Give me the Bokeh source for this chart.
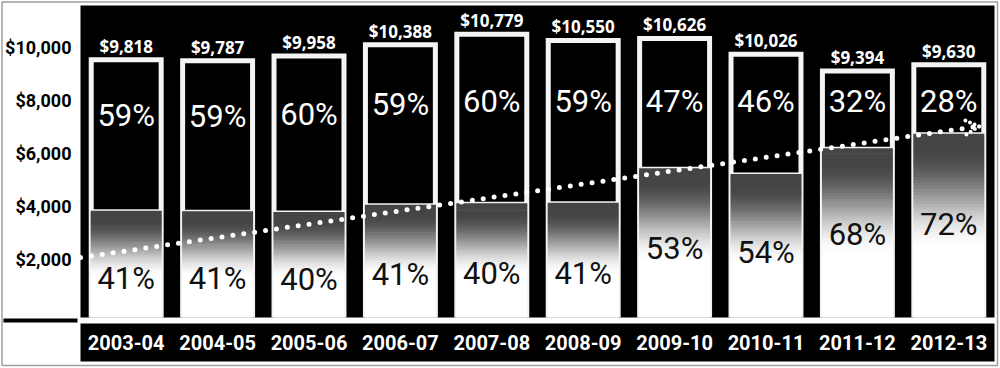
import numpy as np
from bokeh.plotting import figure
from bokeh.models import Range1d, ColumnDataSource
from bokeh.core.properties import value
from bokeh.embed import file_html
from bokeh.resources import INLINE

# ---------------- data ----------------
years = ["2003-04", "2004-05", "2005-06", "2006-07", "2007-08",
         "2008-09", "2009-10", "2010-11", "2011-12", "2012-13"]
totals = [9818, 9787, 9958, 10388, 10779, 10550, 10626, 10026, 9394, 9630]
upper_pct = [59, 59, 60, 59, 60, 59, 47, 46, 32, 28]
lower_pct = [41, 41, 40, 41, 40, 41, 53, 54, 68, 72]
y_ticks = [2000, 4000, 6000, 8000, 10000]
y_tick_labels = ["$2,000", "$4,000", "$6,000", "$8,000", "$10,000"]
trend_start = 2260
trend_end = 7210

# ---------------- layout ----------------
W, H = 1000, 368
PLOT_LEFT = 80
PLOT_RIGHT = 994
n = len(years)
UX = (PLOT_RIGHT - PLOT_LEFT) / n   # px per category
Y0 = 317                            # px from top where $0 sits
KY = 53 / 2000                      # px per dollar


def dx(px):
    return px / UX


def dy(px):
    return px / KY


x_start = -PLOT_LEFT / UX
x_end = (W - PLOT_LEFT) / UX
y_end = Y0 / KY
y_start = -(H - Y0) / KY

NARROW = "Roboto"
WIDE = "Open Sans"

p = figure(width=W, height=H,
           x_range=Range1d(x_start, x_end), y_range=Range1d(y_start, y_end),
           output_backend="svg", toolbar_location=None,
           x_axis_location=None, y_axis_location=None,
           min_border=0, background_fill_color="white",
           border_fill_color="white", outline_line_color=None)
p.grid.visible = False

# thin grey frame around the whole picture
p.quad(left=[x_start + dx(1.5)], right=[x_end - dx(3)],
       bottom=[y_start + dy(3)], top=[y_end - dy(1.5)],
       fill_color=None, line_color="#a0a0a0", line_width=1.5)

# black plot area
p.quad(left=[0], right=[n], bottom=[0], top=[y_end - dy(5)], fill_color="black", line_color=None)
# label band
band_top = -dy(6)
band_bottom = -dy(44)
p.quad(left=[0], right=[n], bottom=[band_bottom], top=[band_top], fill_color="black", line_color=None)
# short rule at the left in the gap
p.quad(left=[x_start + dx(3)], right=[-dx(3)], bottom=[-dy(5)], top=[-dy(1)],
       fill_color="black", line_color=None)

centers = np.arange(n) + 0.5
tot = np.array(totals, dtype=float)
split = tot * np.array(lower_pct) / 100.0
HALF = 0.41

# outer white bar
p.quad(left=centers - HALF, right=centers + HALF, bottom=0, top=tot,
       fill_color="#f4f4f4", line_color=None)
# black upper section
p.quad(left=centers - HALF + dx(5), right=centers + HALF - dx(5),
       bottom=split + dy(1.5), top=tot - dy(5), fill_color="black", line_color=None)

# gradient lower section drawn as thin strips
N = 60
gl, gr, gb, gt, gc = [], [], [], [], []
for c, sp in zip(centers, split):
    edges = np.linspace(0, sp, N + 1)
    for k in range(N):
        mid = 0.5 * (edges[k] + edges[k + 1])
        t = 1 - mid / sp
        s = min(max((t - 0.08) / 0.55, 0.0), 1.0)
        s = s * s * (3 - 2 * s)
        g = int(round(0x45 + (0xff - 0x45) * s))
        gl.append(c - HALF + dx(2))
        gr.append(c + HALF - dx(2))
        gb.append(edges[k])
        gt.append(min(edges[k + 1] + dy(0.7), sp))
        gc.append("#%02x%02x%02x" % (g, g, g))
p.quad(left=gl, right=gr, bottom=gb, top=gt, fill_color=gc, line_color=None)

# labels
lab = ColumnDataSource(dict(
    x=centers,
    top_y=tot + dy(11),
    top_txt=["$" + format(v, ",") for v in totals],
    up_y=np.minimum((tot + split) / 2 + 700, 8150),
    up_txt=[f"{v}%" for v in upper_pct],
    lo_y=0.7 * split - 1350,
    lo_txt=[f"{v}%" for v in lower_pct],
    yr_y=np.full(n, (band_top + band_bottom) / 2),
    yr_txt=years,
))
p.text(x="x", y="top_y", text="top_txt", source=lab, text_color="white",
       text_font=value(WIDE), text_font_style="bold", text_font_size="17px",
       text_align="center", text_baseline="middle")
p.text(x="x", y="up_y", text="up_txt", source=lab, text_color="white",
       text_font=value(NARROW), text_font_size="31px",
       text_align="center", text_baseline="middle")
p.text(x="x", y="lo_y", text="lo_txt", source=lab, text_color="#111111",
       text_font=value(NARROW), text_font_size="31px",
       text_align="center", text_baseline="middle")
p.text(x="x", y="yr_y", text="yr_txt", source=lab, text_color="white",
       text_font=value(NARROW), text_font_style="bold", text_font_size="20px",
       text_align="center", text_baseline="middle")

# y tick labels
tick_src = ColumnDataSource(dict(
    x=np.full(len(y_ticks), -dx(9)),
    y=np.array(y_ticks) + dy(5),
    txt=y_tick_labels,
))
p.text(x="x", y="y", text="txt", source=tick_src, text_color="black",
       text_font=value(NARROW), text_font_style="bold", text_font_size="18px",
       text_align="right", text_baseline="middle")

# dotted trend line with dotted arrow head
tip_x = n - 0.19
p.line(x=[0, tip_x], y=[trend_start, trend_end], line_color="white",
       line_width=5, line_dash="0 11", line_cap="round")
p.multi_line(xs=[[tip_x + dx(2), tip_x - dx(14)], [tip_x + dx(2), tip_x - dx(14)]],
             ys=[[trend_end, trend_end + dy(7)], [trend_end, trend_end - dy(10)]],
             line_color="white", line_width=4, line_dash="0 5", line_cap="round")

open("out.html", "w").write(file_html(p, INLINE))
